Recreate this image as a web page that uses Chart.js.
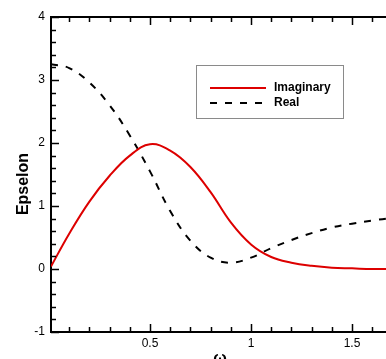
<!DOCTYPE html>
<html>
<head>
<meta charset="utf-8">
<script src="https://cdn.jsdelivr.net/npm/chart.js@4.4.1/dist/chart.umd.min.js"></script>
<style>
  html, body { margin: 0; padding: 0; background: #fff; overflow: hidden; width: 386px; height: 359px; }
  #wrap { width: 392px; height: 359px; }
</style>
</head>
<body>
<div id="wrap"><canvas id="c" width="392" height="359"></canvas></div>
<script>
// Frequency samples (omega)
const omega = [0.01, 0.1, 0.2, 0.3, 0.4, 0.5, 0.6, 0.7, 0.8, 0.9, 1.0, 1.1, 1.2, 1.3, 1.4, 1.5, 1.6, 1.7];
// Imaginary part of epsilon
const imaginary = [0.04, 0.56, 1.07, 1.48, 1.80, 1.98, 1.88, 1.62, 1.22, 0.74, 0.39, 0.19, 0.10, 0.05, 0.02, 0.01, 0.0, 0.0];
// Real part of epsilon
const real = [3.25, 3.19, 2.96, 2.60, 2.12, 1.55, 0.92, 0.45, 0.18, 0.10, 0.18, 0.33, 0.46, 0.57, 0.66, 0.72, 0.77, 0.81];

// Axis ticks
const xTickValues = [0.1, 0.2, 0.3, 0.4, 0.5, 0.6, 0.7, 0.8, 0.9, 1.0, 1.1, 1.2, 1.3, 1.4, 1.5, 1.6];
const xTickLabels = ['', '', '', '', '0.5', '', '', '', '', '1', '', '', '', '', '1.5', ''];
const yTickValues = [-1, -0.8, -0.6, -0.4, -0.2, 0, 0.2, 0.4, 0.6, 0.8, 1, 1.2, 1.4, 1.6, 1.8, 2, 2.2, 2.4, 2.6, 2.8, 3, 3.2, 3.4, 3.6, 3.8, 4];
const yTickLabels = ['-1', '', '', '', '', '0', '', '', '', '', '1', '', '', '', '', '2', '', '', '', '', '3', '', '', '', '', '4'];

const seriesNames = ['Imaginary', 'Real'];
const FONT = 'Liberation Sans, Arial, sans-serif';

const toPoints = ys => omega.map((x, i) => ({ x: x, y: ys[i] }));

// Inward tick marks, top frame line, axis titles and framed legend
const decorations = {
  id: 'decorations',
  afterDraw(chart) {
    const { ctx, chartArea: a, scales: { x, y } } = chart;
    ctx.save();
    ctx.strokeStyle = '#000';
    ctx.lineWidth = 2;
    ctx.beginPath();
    ctx.moveTo(a.left - 1, a.top);
    ctx.lineTo(a.right + 2, a.top);
    ctx.stroke();

    ctx.lineWidth = 1.5;
    x.ticks.forEach((t, i) => {
      const px = Math.round(x.getPixelForValue(t.value)) + 0.5;
      const len = xTickLabels[i] ? 8 : 5;
      ctx.beginPath();
      ctx.moveTo(px, a.bottom);
      ctx.lineTo(px, a.bottom - len);
      ctx.moveTo(px, a.top);
      ctx.lineTo(px, a.top + len);
      ctx.stroke();
    });
    y.ticks.forEach((t, i) => {
      const py = Math.round(y.getPixelForValue(t.value)) + 0.5;
      const len = yTickLabels[i] ? 8 : 5;
      ctx.beginPath();
      ctx.moveTo(a.left, py);
      ctx.lineTo(a.left + len, py);
      ctx.stroke();
    });

    // axis titles
    ctx.fillStyle = '#000';
    ctx.font = 'bold 16px ' + FONT;
    ctx.textAlign = 'center';
    ctx.textBaseline = 'middle';
    ctx.save();
    ctx.translate(24, 184);
    ctx.rotate(-Math.PI / 2);
    ctx.fillText('Epselon', 0, 0);
    ctx.restore();
    ctx.fillText('\u03C9', 220, 359);

    // legend box
    const box = { l: 196.5, t: 65.5, r: 343.5, b: 118.5 };
    ctx.fillStyle = '#fff';
    ctx.fillRect(box.l, box.t, box.r - box.l, box.b - box.t);
    ctx.strokeStyle = '#8a8a8a';
    ctx.lineWidth = 1;
    ctx.strokeRect(box.l, box.t, box.r - box.l, box.b - box.t);
    const rows = [88, 103];
    chart.data.datasets.forEach((ds, i) => {
      ctx.strokeStyle = ds.borderColor;
      ctx.lineWidth = 2;
      ctx.setLineDash(ds.borderDash || []);
      ctx.beginPath();
      ctx.moveTo(210, rows[i]);
      ctx.lineTo(266, rows[i]);
      ctx.stroke();
      ctx.setLineDash([]);
      ctx.fillStyle = '#000';
      ctx.font = 'bold 12px ' + FONT;
      ctx.textAlign = 'left';
      ctx.fillText(ds.label, 274, rows[i]);
    });
    ctx.restore();
  }
};

new Chart(document.getElementById('c'), {
  type: 'line',
  data: {
    datasets: [
      {
        label: seriesNames[0],
        data: toPoints(imaginary),
        borderColor: '#dd0000',
        borderWidth: 2,
        pointRadius: 0,
        tension: 0.4,
        fill: false
      },
      {
        label: seriesNames[1],
        data: toPoints(real),
        borderColor: '#000000',
        borderWidth: 2,
        borderDash: [7, 8],
        pointRadius: 0,
        tension: 0.4,
        fill: false
      }
    ]
  },
  options: {
    responsive: false,
    animation: false,
    events: [],
    layout: { padding: { top: 17, right: 3.6, left: 0, bottom: 0 } },
    plugins: { legend: { display: false }, tooltip: { enabled: false } },
    scales: {
      x: {
        type: 'linear',
        min: 0.01,
        max: 1.68,
        afterBuildTicks: s => { s.ticks = xTickValues.map(v => ({ value: v })); },
        afterFit: s => { s.height = 27; },
        grid: { display: false, drawTicks: false },
        border: { display: true, color: '#000', width: 2 },
        ticks: {
          autoSkip: false,
          maxRotation: 0,
          padding: 4,
          color: '#000',
          font: { family: FONT, size: 12 },
          callback: (v, i) => xTickLabels[i]
        }
      },
      y: {
        type: 'linear',
        min: -1,
        max: 4,
        afterBuildTicks: s => { s.ticks = yTickValues.map(v => ({ value: v })); },
        afterFit: s => { s.width = 51; },
        grid: { display: false, drawTicks: false },
        border: { display: true, color: '#000', width: 2 },
        ticks: {
          autoSkip: false,
          padding: 6,
          color: '#000',
          font: { family: FONT, size: 12 },
          callback: (v, i) => yTickLabels[i]
        }
      }
    }
  },
  plugins: [decorations]
});
</script>
</body>
</html>
